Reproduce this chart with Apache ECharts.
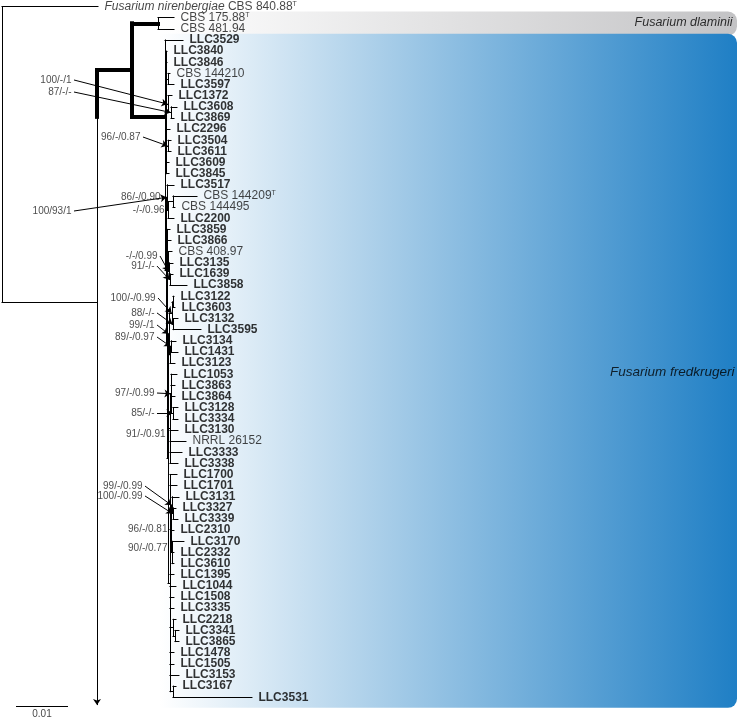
<!DOCTYPE html>
<html><head><meta charset="utf-8">
<script src="https://cdn.jsdelivr.net/npm/echarts@6/dist/echarts.min.js"></script>
<style>html,body{margin:0;padding:0;background:#fff}#c{width:738px;height:718px}</style>
</head><body><div id="c"></div>
<script>
// ---- DATA: tree topology with branch lengths (substitutions/site) ----
const newick = "('Fusarium nirenbergiae CBS 840.88^T':0.01846,(((('CBS 175.88^T':0.00308,'CBS 481.94':0.00308)D:0.00500," +
 "(LLC3529:0.00346," +
 "(LLC3840:0.00019,LLC3846:0.00019,('CBS 144210':0.00038,LLC3597:0.00115)K1:0.00038,(LLC1372:0.00077,(LLC3608:0.00115,LLC3869:0.00058)K3:0.00058)K2:0.00038,LLC2296:0.00077,(LLC3504:0.00058,LLC3611:0.00058)K4:0.00038,LLC3609:0.00058,LLC3845:0.00058)K:0.00019," +
 "((LLC3517:0.00135,(('CBS 144209^T':0.00462,'CBS 144495':0.00038)M1:0.00096,LLC2200:0.00115)G3:0.00019)G:0.00019," +
 "(LLC3859:0.00058,LLC3866:0.00077,('CBS 408.97':0.00077,(LLC3135:0.00077,(LLC1639:0.00058,LLC3858:0.00327)P2:0.00019)P1:0.00019)P:0.00019," +
 "((((LLC3122:0.00019,LLC3603:0.00038)R1:0.00019,(LLC3132:0.00096,LLC3595:0.00538)R2:0.00019)R:0.00058,((LLC3134:0.00096,LLC1431:0.00135)T1:0.00019,LLC3123:0.00096)T:0.00019)S:0.00019," +
 "((LLC1053:0.00115,LLC3863:0.00077,LLC3864:0.00077,(LLC3128:0.00096,LLC3334:0.00096)W:0.00038)V:0.00019,LLC3130:0.00154,'NRRL 26152':0.00308,LLC3333:0.00231,LLC3338:0.00154)Y:0.00038," +
 "(LLC1700:0.00135,LLC1701:0.00135,((LLC3131:0.00135,(LLC3327:0.00058,LLC3339:0.00096)Z2:0.00019)Z:0.00019,LLC2310:0.00058,(LLC3170:0.00231,LLC2332:0.00038,LLC3610:0.00038)BB:0.00019)AA:0.00019," +
 "LLC1395:0.00077,LLC1044:0.00115,LLC1508:0.00077,LLC3335:0.00077,(LLC2218:0.00058,(LLC3341:0.00077,LLC3865:0.00077)DD:0.00038)CC:0.00058,LLC1478:0.00077,LLC1505:0.00077,LLC3153:0.00173,(LLC3167:0.00058,LLC3531:0.01519)EE:0.00058)LL:0.00038" +
 ")Q:0.00019)N:0.00019)L:0.00019)F:0.00635)B:0.00673)A:0.01827);";

// rows where a drawn branch joins its node
const joinRowNames = ['A', 'F'];
const joinRows = [26.5, 9.9];
const arrowEndRow = 62.7;          // truncated stem of node A (arrow)

// support values: node, text
const supportNodes = ['K2','K3','K4','G','G3','M1','P1','P2','R','R2','S','T1','V','W','Y','Z','Z2','AA','BB'];
const supportTexts = ['100/-/1','87/-/-','96/-/0.87','100/93/1','-/-/0.96','86/-/0.90','-/-/0.99','91/-/-','100/-/0.99','88/-/-','99/-/1','89/-/0.97','97/-/0.99','85/-/-','91/-/0.91','99/-/0.99','100/-/0.99','96/-/0.81','90/-/0.77'];
const supportArrow = [1,1,1,1,0,0,1,1,1,1,1,1,1,1,0,1,1,0,0];
// annotation placement of support texts (right end depth, row)
const supportTextDepth = [0.01346,0.01346,0.02673,0.01346,0.03135,0.03058,0.03000,0.02942,0.02962,0.02942,0.02942,0.02942,0.02942,0.02942,0.03154,0.02712,0.02712,0.03192,0.03192];
const supportTextRow = [6.59,7.67,11.71,18.35,18.26,17.09,22.39,23.29,26.16,27.5,28.58,29.66,34.69,36.48,38.37,43.04,43.93,46.89,48.6];

const cladeNodes = ['D', 'F'];
const cladeNames = ['Fusarium dlaminii', 'Fusarium fredkrugeri'];
const thickStems = ['B', 'D', 'F'];
const thickVerticals = ['B'];
const thickSpans = [['A', 'B', 'F']];   // on node A's vertical, between rows of B and F
const scaleBarLength = 0.01;
const scaleBarLabel = '0.01';

// ---- layout constants ----
const X_MAX = 0.141538;
const PX = X_MAX / 736; // one pixel in depth units
const FONT = '"Liberation Sans", Arial, Helvetica, sans-serif';

function parseNewick(str) {
  const s = str;
  let i = 0;
  function node() {
    const n = {children: [], name: '', len: 0};
    if (s[i] === '(') {
      i++;
      while (true) {
        n.children.push(node());
        if (s[i] === ',') { i++; continue; }
        if (s[i] === ')') { i++; break; }
        break;
      }
    }
    if (s[i] === "'") { const j = s.indexOf("'", i + 1); n.name = s.slice(i + 1, j); i = j + 1; }
    else { const m = /^[^:,();]*/.exec(s.slice(i)); n.name = m[0]; i += m[0].length; }
    if (s[i] === ':') { i++; const m = /^[0-9.eE+-]+/.exec(s.slice(i)); n.len = parseFloat(m[0]); i += m[0].length; }
    return n;
  }
  return node();
}

const root = parseNewick(newick);
const leaves = [], nodes = {};
let row = 0;
function layout(n, parentDepth) {
  n.x = parentDepth + n.len;
  if (!n.children.length) { n.y = row++; leaves.push(n); n.first = n.y; n.last = n.y; }
  else {
    n.children.forEach(c => layout(c, n.x));
    const k = joinRowNames.indexOf(n.name);
    n.y = k >= 0 ? joinRows[k] : (n.children[0].y + n.children[n.children.length - 1].y) / 2;
    n.first = n.children[0].first; n.last = n.children[n.children.length - 1].last;
  }
  if (n.name) nodes[n.name] = n;
}
layout(root, 0);

const thin = [], thick = [];
function walk(n, parent) {
  if (parent) {
    (thickStems.includes(n.name) ? thick : thin).push({coords: [[parent.x, n.y], [n.x, n.y]]});
  }
  if (n.children.length) {
    const ys = n.children.map(c => c.y).concat([n.y]);
    (thickVerticals.includes(n.name) ? thick : thin).push({coords: [[n.x, Math.min(...ys)], [n.x, Math.max(...ys)]]});
    n.children.forEach(c => walk(c, n));
  }
}
walk(root, null);
thickSpans.forEach(t => {
  const nd = nodes[t[0]];
  thick.push({coords: [[nd.x, nodes[t[1]].y], [nd.x, nodes[t[2]].y]]});
});

const arrows = [];
const nodeA = nodes['A'];
arrows.push({coords: [[nodeA.x, nodeA.y], [nodeA.x, arrowEndRow]]});
const supportLabelData = [];
supportNodes.forEach((nm, k) => {
  const nd = nodes[nm];
  supportLabelData.push({value: [supportTextDepth[k], supportTextRow[k]], name: supportTexts[k]});
  if (supportArrow[k]) arrows.push({coords: [[supportTextDepth[k] + 2 * PX, supportTextRow[k]], [nd.x - 0.5 * PX, nd.y]]});
});

function fmtLeaf(name) {
  let sup = '';
  if (name.endsWith('^T')) { name = name.slice(0, -2); sup = '{s|T}'; }
  if (name.startsWith('Fusarium ')) {
    const p = name.split(' ');
    return '{i|' + p[0] + ' ' + p[1] + '}{n| ' + p.slice(2).join(' ') + '}' + sup;
  }
  if (name.startsWith('LLC')) return '{b|' + name + '}' + sup;
  return '{n|' + name + '}' + sup;
}
const leafData = leaves.map(l => ({value: [l.x, l.y], name: l.name}));

const bandData = cladeNodes.map((nm, k) => {
  const nd = nodes[nm];
  const x0 = k === 0 ? nd.x + 5 * PX : nd.x - 5 * PX;
  return [x0, nd.first - 0.55, X_MAX - 1 * PX, nd.last + (k === 0 ? 0.6 : 0.95), k];
});
const bandEnd = ['#c3c3c5', '#1f7fc5'];
const cladeLabelData = cladeNames.map((t, k) => {
  const nd = nodes[cladeNodes[k]];
  return {value: [X_MAX - (k === 0 ? 5 : 3) * PX, k === 0 ? (nd.first + nd.last) / 2 - 0.1 : (nd.first + nd.last) / 2 + 0.3], name: t,
          label: {fontSize: k === 0 ? 12.5 : 13.5}};
});

const sbX0 = 14 * PX, sbRow = 62.8;

const chart = echarts.init(document.getElementById('c'), null, {renderer: 'canvas'});
chart.setOption({
  animation: false,
  backgroundColor: '#ffffff',
  grid: {left: 2, right: 0, top: 1, bottom: 4, containLabel: false},
  xAxis: {type: 'value', min: 0, max: X_MAX, show: false},
  yAxis: {type: 'value', min: -0.5, max: 63.5, inverse: true, show: false},
  series: [
    {
      type: 'custom', z: 0, silent: true, clip: false,
      data: bandData,
      renderItem: function (params, api) {
        const p0 = api.coord([api.value(0), api.value(1)]);
        const p1 = api.coord([api.value(2), api.value(3)]);
        const k = api.value(4);
        return {
          type: 'rect',
          shape: {x: p0[0], y: p0[1], width: p1[0] - p0[0], height: p1[1] - p0[1], r: [0, 9, 9, 0]},
          style: {fill: new echarts.graphic.LinearGradient(0, 0, 1, 0, [{offset: 0, color: '#ffffff'}, {offset: 1, color: bandEnd[k]}])}
        };
      }
    },
    {
      type: 'lines', coordinateSystem: 'cartesian2d', z: 3, silent: true,
      lineStyle: {color: '#000', width: 1, opacity: 1, cap: 'square'},
      data: thin
    },
    {
      type: 'lines', coordinateSystem: 'cartesian2d', z: 3, silent: true,
      lineStyle: {color: '#000', width: 4, opacity: 1, cap: 'square'},
      data: thick
    },
    {
      type: 'lines', coordinateSystem: 'cartesian2d', z: 3, silent: true,
      symbol: ['none', 'arrow'], symbolSize: 6,
      lineStyle: {color: '#000', width: 1, opacity: 1},
      data: arrows
    },
    {
      type: 'lines', coordinateSystem: 'cartesian2d', z: 3, silent: true,
      lineStyle: {color: '#000', width: 1, opacity: 1},
      data: [{coords: [[sbX0, sbRow], [sbX0 + scaleBarLength, sbRow]]}]
    },
    {
      type: 'scatter', z: 4, silent: true, symbolSize: 1,
      itemStyle: {color: 'rgba(0,0,0,0)'},
      data: [{value: [sbX0 + scaleBarLength / 2, sbRow], name: scaleBarLabel}],
      label: {show: true, position: 'bottom', distance: 3, formatter: p => p.name, fontSize: 10, color: '#111', fontFamily: FONT}
    },
    {
      type: 'scatter', z: 4, silent: true, symbolSize: 1,
      itemStyle: {color: 'rgba(0,0,0,0)'},
      data: leafData,
      label: {
        show: true, position: 'right', distance: 6, formatter: p => fmtLeaf(p.name),
        rich: {
          b: {fontFamily: FONT, fontSize: 12, fontWeight: 'bold', color: '#000', lineHeight: 13},
          n: {fontFamily: FONT, fontSize: 12, color: '#151515', lineHeight: 13},
          i: {fontFamily: FONT, fontSize: 12, fontStyle: 'italic', color: '#151515', lineHeight: 13},
          s: {fontFamily: FONT, fontSize: 7, color: '#151515', verticalAlign: 'top', lineHeight: 9}
        }
      }
    },
    {
      type: 'scatter', z: 4, silent: true, symbolSize: 1,
      itemStyle: {color: 'rgba(0,0,0,0)'},
      data: supportLabelData,
      label: {show: true, position: 'left', distance: 0, formatter: p => p.name, fontFamily: FONT, fontSize: 10, color: '#1a1a1a'}
    },
    {
      type: 'scatter', z: 4, silent: true, symbolSize: 1,
      itemStyle: {color: 'rgba(0,0,0,0)'},
      data: cladeLabelData,
      label: {show: true, position: 'left', distance: 0, formatter: p => p.name, fontFamily: FONT, fontSize: 12, fontStyle: 'italic', color: '#000'}
    }
  ]
});
</script></body></html>
